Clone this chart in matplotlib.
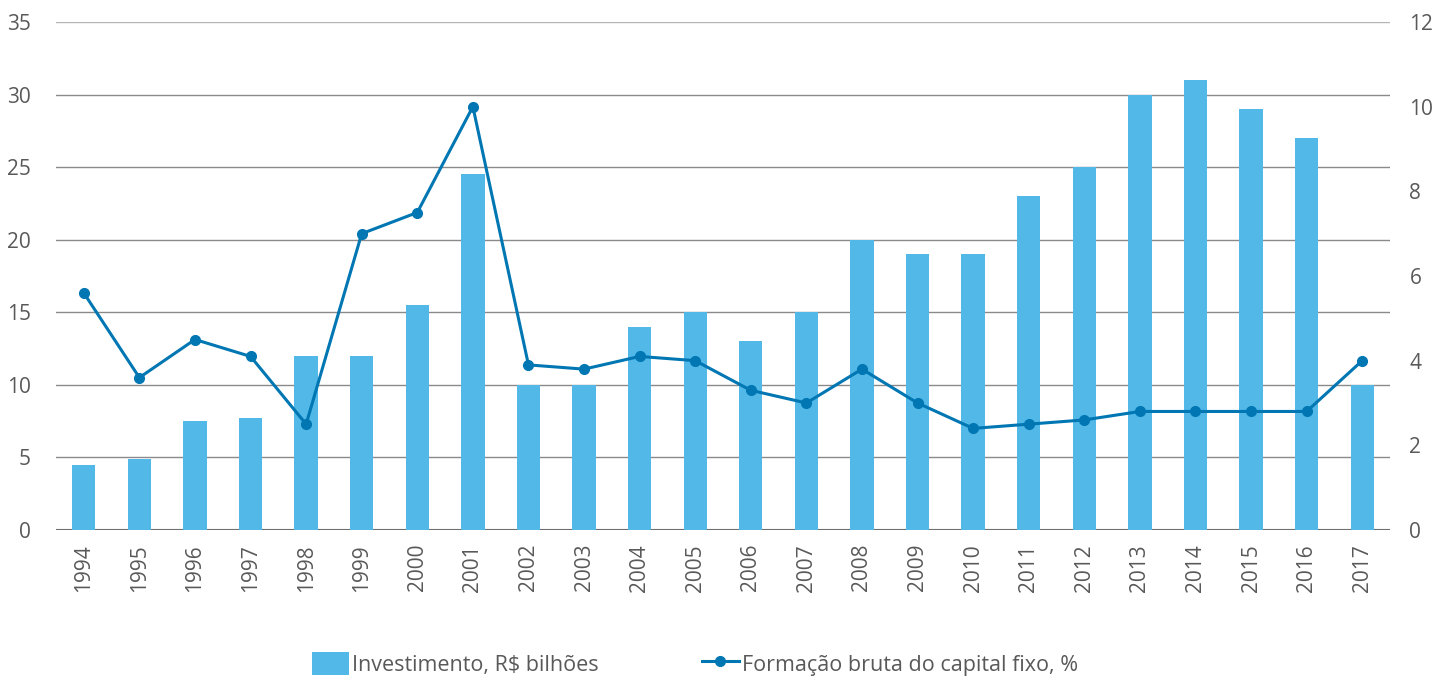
import matplotlib
matplotlib.use("Agg")
import matplotlib.pyplot as plt
from matplotlib.lines import Line2D
from matplotlib.patches import Patch

# ------------- Data ------------- #
years = [str(y) for y in range(1994, 2018)]
investimento = [4.5, 4.9, 7.5, 7.7, 12, 12, 15.5, 24.5, 10, 10, 14, 15,
                13, 15, 20, 19, 19, 23, 25, 30, 31, 29, 27, 10]
fbcf = [5.6, 3.6, 4.5, 4.1, 2.5, 7.0, 7.5, 10.0, 3.9, 3.8, 4.1, 4.0,
        3.3, 3.0, 3.8, 3.0, 2.4, 2.5, 2.6, 2.8, 2.8, 2.8, 2.8, 4.0]

BAR_COLOR = "#52b8e8"
LINE_COLOR = "#0077b3"
TEXT_COLOR = "#595959"

plt.rcParams["font.family"] = ["Open Sans", "DejaVu Sans"]

fig = plt.figure(figsize=(14.42, 6.76), dpi=100)
ax1 = fig.add_axes([56 / 1442, 146 / 676, 1334 / 1442, 508 / 676])
x = list(range(len(years)))

# grid lines on the left scale
for v in range(0, 36, 5):
    if v == 0:
        c, lw = "#6e6e6e", 1.5
    elif v == 35:
        c, lw = "#b5b5b5", 1.0
    else:
        c, lw = "#8a8a8a", 1.0
    ax1.axhline(v, color=c, lw=lw, zorder=0)

ax1.bar(x, investimento, width=0.42, color=BAR_COLOR, zorder=2)
ax1.set_xlim(-0.5, len(years) - 0.5)
ax1.set_ylim(0, 35)
ax1.set_yticks(range(0, 36, 5))
ax1.set_xticks(x)
ax1.set_xticklabels(years, rotation=90)

ax2 = ax1.twinx()
ax2.plot(x, fbcf, color=LINE_COLOR, lw=2.2, marker="o", markersize=7, zorder=3)
ax2.set_ylim(0, 12)
ax2.set_yticks(range(0, 13, 2))

for ax in (ax1, ax2):
    for s in ax.spines.values():
        s.set_visible(False)
    ax.tick_params(length=0, labelsize=15, colors=TEXT_COLOR)
ax1.tick_params(axis="y", pad=18)
ax1.tick_params(axis="x", pad=10)
ax2.tick_params(axis="y", pad=14)

handles = [
    Patch(facecolor=BAR_COLOR, edgecolor="none"),
    Line2D([0], [0], color=LINE_COLOR, lw=2.2, marker="o", markersize=7),
]
fig.legend(handles, ["Investimento, R$ bilhões", "Formação bruta do capital fixo, %"],
           loc="center", bbox_to_anchor=(0.482, 0.018), ncol=2, frameon=False,
           fontsize=15.5, labelcolor=TEXT_COLOR, handlelength=1.7, handletextpad=0.15,
           columnspacing=4.8, handleheight=1.3)

fig.savefig("out.png", dpi=100)
